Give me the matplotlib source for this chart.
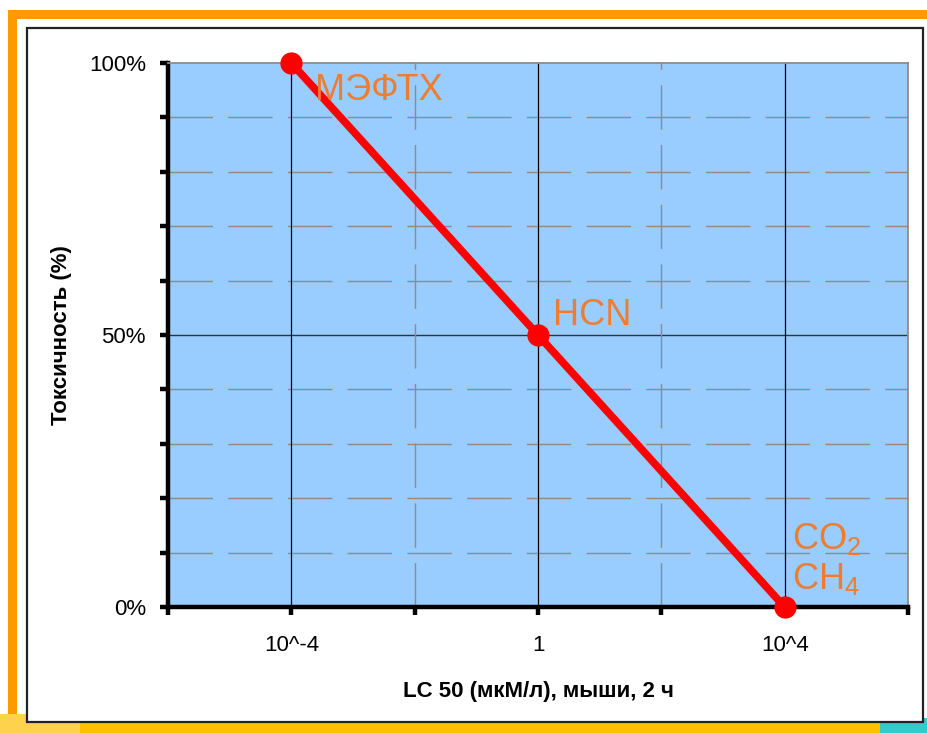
import matplotlib
matplotlib.use("Agg")
from matplotlib import pyplot as plt
from matplotlib.patches import Rectangle

plt.rcParams['font.family'] = ['Liberation Sans', 'DejaVu Sans']
plt.rcParams['mathtext.fontset'] = 'custom'
plt.rcParams['mathtext.rm'] = 'Liberation Sans'
plt.rcParams['mathtext.default'] = 'regular'

# data
lc50 = [1e-4, 1, 1e4]
toxicity = [100, 50, 0]
names = ['МЭФТХ', 'HCN', 'CO$_2$\nCH$_4$']
name_offsets = [(17, -20), (11, 14), (5, 7)]
name_va = ['center', 'center', 'bottom']

x_ticks = [1e-6, 1e-4, 1e-2, 1, 1e2, 1e4, 1e6]
x_ticklabels = ['', '10^-4', '', '1', '', '10^4', '']
x_solid = [1e-4, 1, 1e4]
x_dashed = [1e-2, 1e2]
y_ticks = list(range(0, 101, 10))
y_ticklabels = {0: '0%', 50: '50%', 100: '100%'}

fig = plt.figure(figsize=(9.27, 7.33), dpi=100)
W, H = 927, 733

def px_rect(x0, y0, x1, y1, **kw):
    fig.patches.append(Rectangle((x0 / W, 1 - y1 / H), (x1 - x0) / W, (y1 - y0) / H,
                                 transform=fig.transFigure, **kw))

# slide decoration
px_rect(8, 10, 927, 19, color='#ff9900', lw=0, zorder=0)
px_rect(8, 10, 17, 733, color='#ff9900', lw=0, zorder=0)
px_rect(0, 722, 927, 733, color='#ffc000', lw=0, zorder=0)
px_rect(0, 714, 80, 733, color='#ffd24d', lw=0, zorder=0)
px_rect(880, 718, 927, 733, color='#33cccc', lw=0, zorder=0)
px_rect(27, 28, 923, 722, facecolor='white', edgecolor='#222222', lw=1.6, zorder=1)

ax = fig.add_axes([168 / W, 1 - 607 / H, (908 - 168) / W, (607 - 63) / H])
ax.set_zorder(5)
ax.set_facecolor('#99ccff')
ax.set_xscale('log')
ax.set_xlim(1e-6, 1e6)
ax.set_ylim(0, 100)

for y in y_ticks:
    if y in (0, 100):
        continue
    if y == 50:
        ax.axhline(y, color='#333333', lw=1.0, zorder=1)
    else:
        ax.axhline(y, color='#8c8c8c', lw=1.0, ls=(0, (32, 11)), zorder=1)
for x in x_solid:
    ax.axvline(x, color='black', lw=0.9, zorder=1)
for x in x_dashed:
    ax.axvline(x, color='#8c8c8c', lw=1.0, ls=(0, (32, 11)), zorder=1)

ax.plot(lc50, toxicity, color='#ff0000', lw=5.5, marker='o', ms=15,
        solid_capstyle='round', zorder=3, clip_on=False)

for x, y, name, off, va in zip(lc50, toxicity, names, name_offsets, name_va):
    ax.annotate(name, (x, y), xytext=off, textcoords='offset points',
                ha='left', va=va, fontsize=26, color='#ed7d31',
                linespacing=1.15, zorder=4)

ax.set_xticks(x_ticks)
ax.set_xticklabels(x_ticklabels)
ax.xaxis.set_minor_locator(matplotlib.ticker.NullLocator())
ax.set_yticks(y_ticks)
ax.set_yticklabels([y_ticklabels.get(y, '') for y in y_ticks])

for side in ('left', 'bottom'):
    ax.spines[side].set_linewidth(3.2)
    ax.spines[side].set_color('black')
for side in ('top', 'right'):
    ax.spines[side].set_linewidth(1.3)
    ax.spines[side].set_color('#8c8c8c')

ax.tick_params(axis='both', which='major', length=6, width=3.2, color='black',
               labelsize=16, direction='out')
ax.tick_params(axis='x', pad=14)
ax.tick_params(axis='y', pad=10)

ax.set_xlabel('LC 50 (мкМ/л), мыши, 2 ч', fontsize=16, fontweight='bold', labelpad=18)
ax.set_ylabel('Токсичность (%)', fontsize=16, fontweight='bold', labelpad=12)

fig.savefig('out.png', dpi=100)
